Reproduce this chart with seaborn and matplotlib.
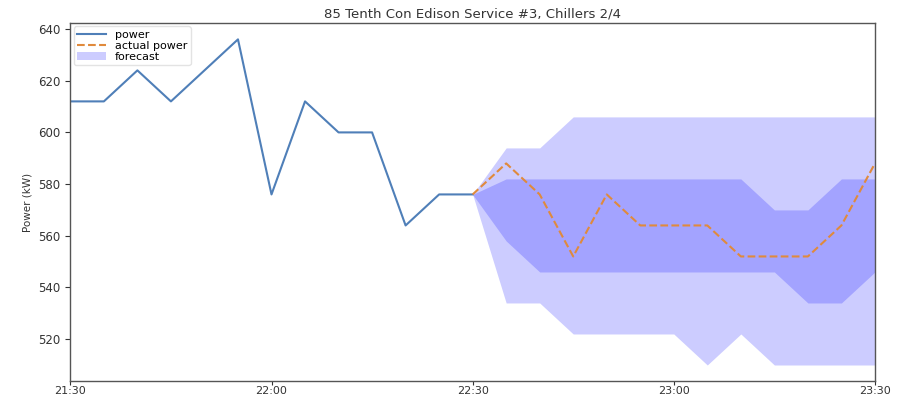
import numpy as np
import pandas as pd
import matplotlib
matplotlib.use("Agg")
import matplotlib.pyplot as plt
import matplotlib.dates as mdates
import seaborn as sns

# Measured chiller power, 5-minute samples
power_times = ["21:30", "21:35", "21:40", "21:45", "21:50", "21:55", "22:00",
               "22:05", "22:10", "22:15", "22:20", "22:25", "22:30"]
power_kw = [612, 612, 624, 612, 624, 636, 576, 612, 600, 600, 564, 576, 576]

# Forecast horizon: actual readings and prediction bands
fc_times = ["22:30", "22:35", "22:40", "22:45", "22:50", "22:55", "23:00",
            "23:05", "23:10", "23:15", "23:20", "23:25", "23:30"]
actual_kw = [576, 588, 576, 552, 576, 564, 564, 564, 552, 552, 552, 564, 588]
outer_low = [576, 534, 534, 522, 522, 522, 522, 510, 522, 510, 510, 510, 510]
outer_high = [576, 594, 594, 606, 606, 606, 606, 606, 606, 606, 606, 606, 606]
inner_low = [576, 558, 546, 546, 546, 546, 546, 546, 546, 546, 534, 534, 546]
inner_high = [576, 582, 582, 582, 582, 582, 582, 582, 582, 570, 570, 582, 582]

title = "85 Tenth Con Edison Service #3, Chillers 2/4"
ylabel = "Power (kW)"
x_ticks = ["21:30", "22:00", "22:30", "23:00", "23:30"]


def to_dt(times):
    return pd.to_datetime(["2018-07-01 " + t for t in times])


power_df = pd.DataFrame({"time": to_dt(power_times), "kw": power_kw})
fc_df = pd.DataFrame({"time": to_dt(fc_times), "actual": actual_kw,
                      "olo": outer_low, "ohi": outer_high,
                      "ilo": inner_low, "ihi": inner_high})

plt.rcParams["font.family"] = ["DejaVu Sans"]
fig = plt.figure(figsize=(9.02, 3.98), dpi=100)
ax = fig.add_axes([0.078, 0.042, 0.892, 0.900])

sns.lineplot(data=power_df, x="time", y="kw", ax=ax, color="#4f7fb8",
             linewidth=1.5, label="power")
sns.lineplot(data=fc_df, x="time", y="actual", ax=ax, color="#e08a3c",
             linewidth=1.5, linestyle="--", label="actual power")
ax.fill_between(fc_df["time"], fc_df["olo"], fc_df["ohi"], color="b",
                alpha=0.2, linewidth=0, label="forecast")
ax.fill_between(fc_df["time"], fc_df["ilo"], fc_df["ihi"], color="b",
                alpha=0.2, linewidth=0)

ax.set_xlim(to_dt(["21:30"])[0], to_dt(["23:30"])[0])
ax.set_ylim(503.7, 642.3)
ax.set_xticks(to_dt(x_ticks))
ax.xaxis.set_major_formatter(mdates.DateFormatter("%H:%M"))
ax.set_yticks([520, 540, 560, 580, 600, 620, 640])
ax.tick_params(labelsize=8.5, colors="#333333", length=3.5)
ax.tick_params(axis="x", labelsize=8, length=3, pad=0.5)
ax.set_xlabel("")
ax.set_ylabel(ylabel, fontsize=7.5, color="#333333")
ax.set_title(title, fontsize=9.5, color="#333333", pad=4)
for s in ax.spines.values():
    s.set_color("#555555")
    s.set_linewidth(1.0)

leg = ax.legend(loc="upper left", fontsize=8, frameon=True,
                borderaxespad=0.3, borderpad=0.3, handlelength=2.6,
                labelspacing=0.1)
leg.get_frame().set_edgecolor("#dddddd")

fig.savefig("out.png", dpi=100)
